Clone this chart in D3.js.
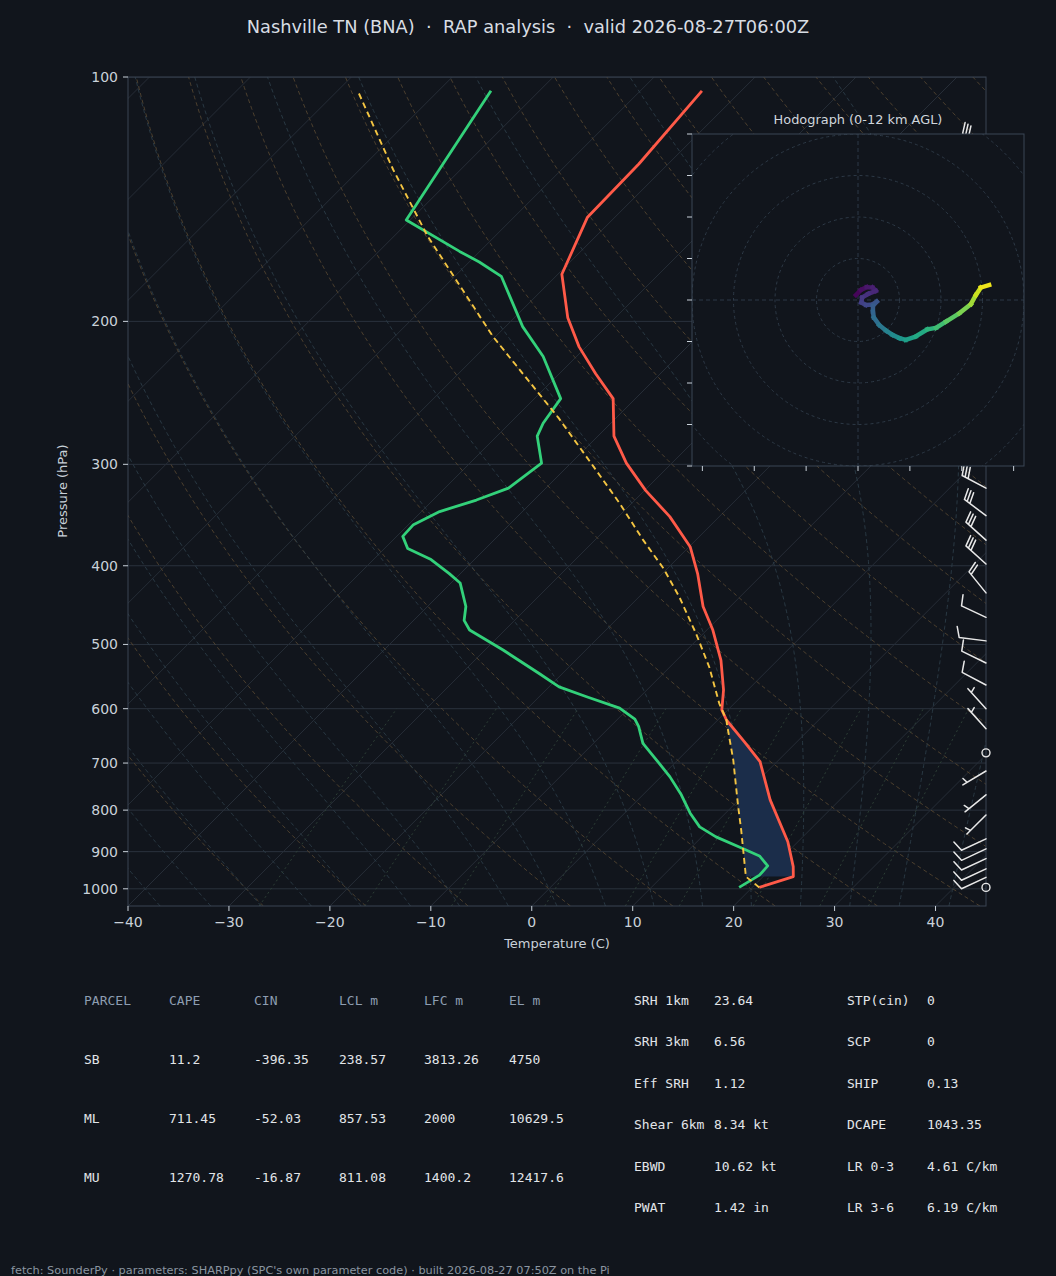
<!DOCTYPE html>
<html>
<head>
<meta charset="utf-8">
<script src="https://cdn.jsdelivr.net/npm/d3@7"></script>
<style>
  body { margin: 0; background: #11151c; }
  text { font-family: "DejaVu Sans", sans-serif; }
  .mono { font-family: "DejaVu Sans Mono", monospace; }
</style>
</head>
<body>
<svg id="chart" width="1056" height="1276"></svg>
<script>
// ---- sounding data ----
var tempP = [996, 966, 939, 875, 777, 697, 659, 620, 602, 569, 523, 480, 449, 409, 379, 348, 323, 299, 277, 249, 232, 215, 198, 175, 149, 128, 104];
var tempC = [20.7, 23.0, 22.0, 19.0, 13.1, 8.3, 4.8, 0.9, -0.6, -2.4, -5.6, -9.4, -12.7, -16.5, -19.9, -24.9, -29.9, -34.5, -38.4, -42.2, -46.4, -50.7, -54.7, -59.6, -62.7, -62.9, -63.9];

var dewP = [996, 962, 937, 911, 892, 863, 839, 807, 766, 728, 694, 662, 631, 618, 599, 580, 564, 543, 508, 480, 467, 449, 420, 409, 393, 381, 368, 356, 343, 332, 321, 299, 277, 267, 249, 221, 203, 176, 169, 164, 150, 104];
var dewC = [18.7, 19.5, 19.4, 17.6, 15.2, 11.4, 8.8, 6.5, 3.8, 0.9, -2.1, -5.1, -7.2, -8.3, -10.9, -15.3, -19.0, -22.3, -28.2, -33.5, -35.0, -36.2, -39.1, -41.1, -44.3, -47.7, -49.4, -49.5, -48.2, -45.7, -43.7, -42.9, -46.0, -46.7, -47.4, -53.3, -58.3, -65.4, -69.0, -72.0, -80.4, -84.8];

var parcelP = [996, 966, 846, 792, 756, 694, 625, 620, 591, 533, 485, 437, 403, 372, 335, 302, 263, 209, 157, 130, 104];
var parcelC = [20.7, 18.3, 13.2, 10.6, 8.8, 5.5, 1.2, 0.9, -1.5, -6.1, -10.7, -16.0, -20.4, -25.2, -31.2, -37.4, -45.7, -60.2, -76.7, -86.7, -98.0];

// wind barbs: pressure (hPa), speed (kt), direction (deg, from)
var barbP   = [122, 150, 200, 250, 290, 321, 347, 372, 398, 432, 463, 495, 527, 561, 600, 635, 680, 716, 766, 811, 868, 893, 918, 945, 968, 996];
var barbSpd = [30, 35, 30, 30, 30, 30, 30, 30, 30, 20, 10, 10, 10, 10, 5, 5, 0, 5, 5, 5, 10, 10, 10, 10, 10, 0];
var barbDir = [300, 285, 280, 285, 290, 298, 307, 312, 312, 321, 295, 277, 296, 298, 318, 318, 0, 239, 231, 225, 245, 245, 245, 245, 245, 0];

// hodograph: height AGL (km), u and v (kt)
var hodoZ = [0, 0.3, 0.6, 0.9, 1.2, 1.5, 1.8, 2.1, 2.4, 2.7, 3.0, 3.3, 3.6, 4.0, 4.5, 5.0, 5.5, 6.0, 6.5, 7.0, 7.5, 8.0, 8.6, 9.3, 10.0, 10.7, 11.4, 12.0];
var hodoU = [-0.5, 0.7, 2.1, 3.5, 4.3, 2.5, 1.0, 0.8, 1.9, 3.4, 4.5, 3.6, 3.6, 3.8, 5.1, 6.8, 8.3, 10.0, 11.5, 13.9, 16.7, 18.8, 21.2, 24.4, 27.2, 28.4, 29.6, 31.6];
var hodoV = [1.2, 2.4, 3.1, 3.0, 2.2, 1.5, 0.6, -0.6, -1.2, -1.1, -0.4, -1.4, -2.8, -4.2, -6.0, -7.4, -8.4, -9.2, -9.6, -8.8, -7.1, -6.7, -5.2, -3.2, -1.0, 1.2, 3.0, 3.6];

// axis ticks
var pTicks = [100, 200, 300, 400, 500, 600, 700, 800, 900, 1000];
var tTicks = [-40, -30, -20, -10, 0, 10, 20, 30, 40];

// parameter tables
var tableHead = ["PARCEL", "CAPE", "CIN", "LCL m", "LFC m", "EL m"];
var parcelName = ["SB", "ML", "MU"];
var capeVals = [11.2, 711.45, 1270.78];
var cinVals = [-396.35, -52.03, -16.87];
var lclVals = [238.57, 857.53, 811.08];
var lfcVals = [3813.26, 2000, 1400.2];
var elVals = [4750, 10629.5, 12417.6];
var kinNames = ["SRH 1km", "SRH 3km", "Eff SRH", "Shear 6km", "EBWD", "PWAT"];
var kinVals = ["23.64", "6.56", "1.12", "8.34 kt", "10.62 kt", "1.42 in"];
var compNames = ["STP(cin)", "SCP", "SHIP", "DCAPE", "LR 0-3", "LR 3-6"];
var compVals = ["0", "0", "0.13", "1043.35", "4.61 C/km", "6.19 C/km"];

// ---- layout ----
var W = 1056, H = 1276;
var pL = 128, pR = 986, pT = 77, pB = 906;
var bg = "#11151c";

var svg = d3.select("#chart");
svg.append("rect").attr("width", W).attr("height", H).attr("fill", bg);

var x = d3.scaleLinear().domain([-40, 45]).range([pL, pR]);
var y = d3.scaleLog().domain([1050, 100]).range([pB, pT]);
// 45 degree skew
function sx(t, p) { return x(t) + (pB - y(p)); }

var defs = svg.append("defs");
defs.append("clipPath").attr("id", "plotclip").append("rect")
  .attr("x", pL).attr("y", pT).attr("width", pR - pL).attr("height", pB - pT);

var plot = svg.append("g").attr("clip-path", "url(#plotclip)");

var line = d3.line().x(function(d){ return sx(d.t, d.p); }).y(function(d){ return y(d.p); });
function zipTP(ps, ts) { return ps.map(function(p, i){ return {p: p, t: ts[i]}; }); }

// pressure grid for the background curves
var pGrid = d3.range(0, 81).map(function(i){ return 1050 * Math.pow(100 / 1050, i / 80); });

// isobars
plot.selectAll(".isobar").data(pTicks).enter().append("line")
  .attr("x1", pL).attr("x2", pR)
  .attr("y1", function(d){ return y(d); }).attr("y2", function(d){ return y(d); })
  .attr("stroke", "#2a323d").attr("stroke-width", 1);

// isotherms
plot.selectAll(".isotherm").data(d3.range(-160, 50, 10)).enter().append("line")
  .attr("x1", function(d){ return sx(d, 1050); }).attr("y1", pB)
  .attr("x2", function(d){ return sx(d, 100); }).attr("y2", pT)
  .attr("stroke", "#262d37").attr("stroke-width", 1);

// dry adiabats
d3.range(-30, 201, 10).forEach(function(th){
  var k = th + 273.15;
  var pts = pGrid.map(function(p){ return {p: p, t: k * Math.pow(p / 1000, 0.2857) - 273.15}; });
  plot.append("path").attr("d", line(pts)).attr("fill", "none")
    .attr("stroke", "#524430").attr("stroke-width", 0.9).attr("stroke-dasharray", "4,3");
});

// moist adiabats (pseudo-adiabatic lapse rate, stepped in pressure)
function moistRate(t, p) {
  var tc = t - 273.15;
  var es = 6.112 * Math.exp(17.67 * tc / (tc + 243.5));
  var rs = 0.622 * es / (p - es);
  var num = 287.04 * t + 2.501e6 * rs;
  var den = 1005.7 + 2.501e6 * 2.501e6 * rs * 0.622 / (287.04 * t * t);
  return num / den / p;
}
function moistPath(t0) {
  var pts = [], dp = -5;
  var td = t0 + 273.15, pd = 1000;
  while (pd < 1050) {
    var k1 = moistRate(td, pd), k2 = moistRate(td + k1 * 5, pd + 5);
    td += (k1 + k2) / 2 * 5; pd += 5;
  }
  pts.push({p: 1050, t: td - 273.15});
  var t = td, p = 1050;
  while (p > 100) {
    var a = moistRate(t, p), b = moistRate(t + a * dp, p + dp);
    t += (a + b) / 2 * dp; p += dp;
    pts.push({p: p, t: t - 273.15});
  }
  return pts;
}
d3.range(-40, 46, 5).forEach(function(t0){
  plot.append("path").attr("d", line(moistPath(t0))).attr("fill", "none")
    .attr("stroke", "#2b3c47").attr("stroke-width", 0.9).attr("stroke-dasharray", "4,3");
});

// mixing ratio lines (g/kg), 1050 to 600 hPa
var mixGrid = d3.range(0, 21).map(function(i){ return 1050 - i * 22.5; });
[0.4, 1, 2, 4, 7, 10, 16, 24, 32].forEach(function(w){
  var pts = mixGrid.map(function(p){
    var e = (w / 1000) * p / (0.622 + w / 1000), l = Math.log(e / 6.112);
    return {p: p, t: 243.5 * l / (17.67 - l)};
  });
  plot.append("path").attr("d", line(pts)).attr("fill", "none")
    .attr("stroke", "#2f4238").attr("stroke-width", 0.9).attr("stroke-dasharray", "2,3");
});

// CIN shading between parcel and environment
var tFill = zipTP(tempP, tempC).filter(function(d){ return d.p >= 620 && d.p <= 966; });
var pFill = zipTP(parcelP, parcelC).filter(function(d){ return d.p >= 620 && d.p <= 966; }).reverse();
plot.append("path").attr("d", line(tFill.concat(pFill)) + "Z")
  .attr("fill", "#1b2d4a").attr("stroke", "none");

// profiles
plot.append("path").attr("d", line(zipTP(tempP, tempC))).attr("fill", "none")
  .attr("stroke", "#ff5a48").attr("stroke-width", 2.8).attr("stroke-linejoin", "round");
plot.append("path").attr("d", line(zipTP(dewP, dewC))).attr("fill", "none")
  .attr("stroke", "#33d17a").attr("stroke-width", 2.8).attr("stroke-linejoin", "round");
plot.append("path").attr("d", line(zipTP(parcelP, parcelC))).attr("fill", "none")
  .attr("stroke", "#f4c542").attr("stroke-width", 1.9).attr("stroke-dasharray", "6,4");

// axes frame + ticks
svg.append("rect").attr("x", pL).attr("y", pT).attr("width", pR - pL).attr("height", pB - pT)
  .attr("fill", "none").attr("stroke", "#3a4452").attr("stroke-width", 1);

var tickCol = "#c9d1d9";
pTicks.forEach(function(p){
  svg.append("line").attr("x1", pL - 5).attr("x2", pL).attr("y1", y(p)).attr("y2", y(p))
    .attr("stroke", tickCol).attr("stroke-width", 1);
  svg.append("text").attr("x", pL - 10).attr("y", y(p)).attr("dy", "0.36em")
    .attr("text-anchor", "end").attr("font-size", 14).attr("fill", tickCol).text(p);
});
tTicks.forEach(function(t){
  svg.append("line").attr("x1", x(t)).attr("x2", x(t)).attr("y1", pB).attr("y2", pB + 5)
    .attr("stroke", tickCol).attr("stroke-width", 1);
  svg.append("text").attr("x", x(t)).attr("y", 927).attr("text-anchor", "middle")
    .attr("font-size", 14).attr("fill", tickCol).text(t < 0 ? "\u2212" + Math.abs(t) : t);
});
svg.append("text").attr("x", (pL + pR) / 2).attr("y", 948).attr("text-anchor", "middle")
  .attr("font-size", 13).attr("fill", tickCol).text("Temperature (C)");
svg.append("text").attr("transform", "translate(67,491) rotate(-90)").attr("text-anchor", "middle")
  .attr("font-size", 13).attr("fill", tickCol).text("Pressure (hPa)");

// wind barbs along the right edge
function barbSegs(cx, cy, spd, dir) {
  var L = 27, sp = 0.125 * L, h = 0.4 * L, w = 0.25 * L;
  var s = Math.round(spd / 5) * 5;
  var r = dir * Math.PI / 180;
  var a = Math.atan2(-Math.cos(r), -Math.sin(r)) + Math.PI / 2;
  var ca = Math.cos(a), sa = Math.sin(a);
  function P(lx, ly) { return [cx + lx * ca - ly * sa, cy - (lx * sa + ly * ca)]; }
  var segs = [[P(0, 0), P(0, L)]];
  var nb = Math.floor(s / 10), half = (s % 10) >= 5, off = L;
  for (var i = 0; i < nb; i++) { segs.push([P(0, off), P(h, off + w / 2)]); off -= sp; }
  if (half) {
    if (off === L) off -= 1.5 * sp;
    segs.push([P(0, off), P(h / 2, off + w / 4)]);
  }
  return segs;
}
var barbG = svg.append("g");
barbP.forEach(function(p, i){
  var cy = y(p);
  if (Math.round(barbSpd[i] / 5) * 5 < 5) {
    barbG.append("circle").attr("cx", pR).attr("cy", cy).attr("r", 4)
      .attr("fill", "none").attr("stroke", "#e8e8e8").attr("stroke-width", 1.4);
    return;
  }
  var d = barbSegs(pR, cy, barbSpd[i], barbDir[i]).map(function(s){
    return "M" + s[0][0] + "," + s[0][1] + "L" + s[1][0] + "," + s[1][1];
  }).join("");
  barbG.append("path").attr("d", d).attr("fill", "none").attr("stroke", "#e8e8e8")
    .attr("stroke-width", 1.5).attr("stroke-linecap", "round");
});

// ---- hodograph inset ----
var hx = d3.scaleLinear().domain([-40, 40]).range([692, 1024]);
var hy = d3.scaleLinear().domain([-40, 40]).range([466, 134]);
defs.append("clipPath").attr("id", "hodoclip").append("rect")
  .attr("x", 692).attr("y", 134).attr("width", 332).attr("height", 332);
svg.append("rect").attr("x", 692).attr("y", 134).attr("width", 332).attr("height", 332).attr("fill", bg);
var hodo = svg.append("g").attr("clip-path", "url(#hodoclip)");
[10, 20, 30, 40, 50].forEach(function(r){
  hodo.append("circle").attr("cx", hx(0)).attr("cy", hy(0)).attr("r", hx(r) - hx(0))
    .attr("fill", "none").attr("stroke", "#2d3946").attr("stroke-width", 1).attr("stroke-dasharray", "3,3");
});
hodo.append("line").attr("x1", 692).attr("x2", 1024).attr("y1", hy(0)).attr("y2", hy(0))
  .attr("stroke", "#2d3946").attr("stroke-dasharray", "4,3");
hodo.append("line").attr("x1", hx(0)).attr("x2", hx(0)).attr("y1", 134).attr("y2", 466)
  .attr("stroke", "#2d3946").attr("stroke-dasharray", "4,3");
for (var i = 0; i < hodoZ.length - 1; i++) {
  hodo.append("line")
    .attr("x1", hx(hodoU[i])).attr("y1", hy(hodoV[i]))
    .attr("x2", hx(hodoU[i + 1])).attr("y2", hy(hodoV[i + 1]))
    .attr("stroke", d3.interpolateViridis((hodoZ[i] + hodoZ[i + 1]) / 2 / 12))
    .attr("stroke-width", 4.5).attr("stroke-linecap", "square");
}
svg.append("rect").attr("x", 692).attr("y", 134).attr("width", 332).attr("height", 332)
  .attr("fill", "none").attr("stroke", "#3a4654").attr("stroke-width", 1);
d3.range(-40, 41, 10).forEach(function(v){
  svg.append("line").attr("x1", 687).attr("x2", 692).attr("y1", hy(v)).attr("y2", hy(v))
    .attr("stroke", tickCol).attr("stroke-width", 1);
});
d3.range(-37.5, 38, 12.5).forEach(function(u){
  svg.append("line").attr("x1", hx(u)).attr("x2", hx(u)).attr("y1", 466).attr("y2", 471)
    .attr("stroke", tickCol).attr("stroke-width", 1);
});
svg.append("text").attr("x", hx(0)).attr("y", 124).attr("text-anchor", "middle")
  .attr("font-size", 12.9).attr("fill", "#d0d6dc").text("Hodograph (0-12 km AGL)");

// ---- title ----
svg.append("text").attr("x", W / 2).attr("y", 33).attr("text-anchor", "middle")
  .attr("font-size", 17.8).attr("fill", "#d8dde3").style("white-space", "pre")
  .text("Nashville TN (BNA)  \u00b7  RAP analysis  \u00b7  valid 2026-08-27T06:00Z");

// ---- tables ----
var colX = [84, 169, 254, 339, 424, 509];
var rowY = [1000, 1059, 1118, 1177];
tableHead.forEach(function(h, j){
  svg.append("text").attr("class", "mono").attr("x", colX[j]).attr("y", rowY[0]).attr("dy", "0.35em")
    .attr("font-size", 13).attr("fill", "#8d9db1").text(h);
});
parcelName.forEach(function(n, i){
  var row = [n, capeVals[i], cinVals[i], lclVals[i], lfcVals[i], elVals[i]];
  row.forEach(function(v, j){
    svg.append("text").attr("class", "mono").attr("x", colX[j]).attr("y", rowY[i + 1]).attr("dy", "0.35em")
      .attr("font-size", 13).attr("fill", "#e2e5e9").text(String(v));
  });
});
var rY = [1000, 1041.7, 1083, 1124.5, 1166, 1207.7];
kinNames.forEach(function(n, i){
  [[634, n], [714, kinVals[i]], [847, compNames[i]], [927, compVals[i]]].forEach(function(c){
    svg.append("text").attr("class", "mono").attr("x", c[0]).attr("y", rY[i]).attr("dy", "0.35em")
      .attr("font-size", 13).attr("fill", "#e2e5e9").style("white-space", "pre").text(c[1]);
  });
});

// ---- footer ----
svg.append("text").attr("x", 11).attr("y", 1274).attr("font-size", 11.3).attr("fill", "#8b95a1")
  .text("fetch: SounderPy \u00b7 parameters: SHARPpy (SPC's own parameter code) \u00b7 built 2026-08-27 07:50Z on the Pi");
</script>
</body>
</html>
